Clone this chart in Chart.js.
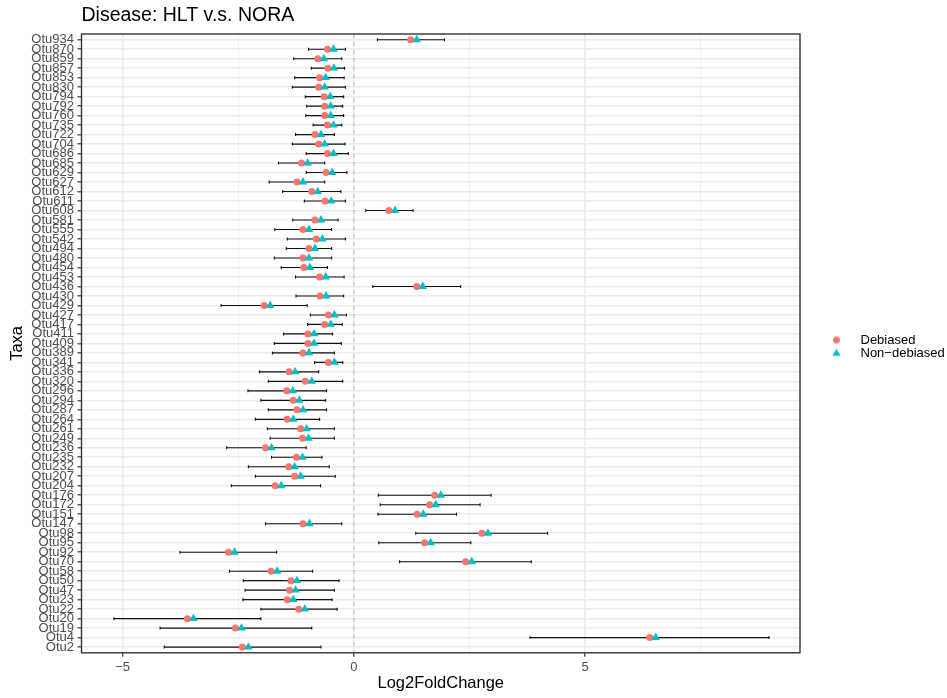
<!DOCTYPE html>
<html>
<head>
<meta charset="utf-8">
<title>Disease: HLT v.s. NORA</title>
<script src="https://cdn.jsdelivr.net/npm/chart.js@4.4.0/dist/chart.umd.min.js"></script>
<style>
    html, body { margin: 0; padding: 0; background: #ffffff; }
    #wrap { width: 947px; height: 698px; }
</style>
</head>
<body>
<div id="wrap"><canvas id="lfc-chart" width="947" height="698"></canvas></div>
<script>
const taxa = ['Otu934', 'Otu870', 'Otu859', 'Otu857', 'Otu853', 'Otu830', 'Otu794', 'Otu792', 'Otu760', 'Otu735',
    'Otu722', 'Otu704', 'Otu686', 'Otu685', 'Otu629', 'Otu627', 'Otu612', 'Otu611', 'Otu608', 'Otu581',
    'Otu555', 'Otu542', 'Otu494', 'Otu480', 'Otu454', 'Otu453', 'Otu436', 'Otu430', 'Otu429', 'Otu427',
    'Otu417', 'Otu411', 'Otu409', 'Otu389', 'Otu341', 'Otu336', 'Otu320', 'Otu296', 'Otu294', 'Otu287',
    'Otu264', 'Otu261', 'Otu249', 'Otu236', 'Otu235', 'Otu232', 'Otu207', 'Otu204', 'Otu176', 'Otu172',
    'Otu151', 'Otu147', 'Otu98', 'Otu95', 'Otu92', 'Otu70', 'Otu58', 'Otu50', 'Otu47', 'Otu23',
    'Otu22', 'Otu20', 'Otu19', 'Otu4', 'Otu2'];

const debiased = [1.23, -0.57, -0.78, -0.56, -0.74, -0.76, -0.64, -0.63, -0.63, -0.57,
    -0.84, -0.76, -0.57, -1.13, -0.60, -1.23, -0.91, -0.62, 0.76, -0.84,
    -1.10, -0.81, -0.97, -1.10, -1.08, -0.74, 1.36, -0.73, -1.94, -0.55,
    -0.63, -0.99, -0.99, -1.10, -0.55, -1.40, -1.05, -1.45, -1.31, -1.23,
    -1.44, -1.15, -1.11, -1.91, -1.24, -1.41, -1.28, -1.70, 1.75, 1.64,
    1.37, -1.10, 2.77, 1.53, -2.71, 2.42, -1.79, -1.36, -1.39, -1.44,
    -1.19, -3.60, -2.56, 6.40, -2.41];

const nonDebiased = [1.36, -0.44, -0.65, -0.43, -0.61, -0.63, -0.51, -0.50, -0.50, -0.44,
    -0.71, -0.63, -0.44, -1.00, -0.47, -1.10, -0.78, -0.49, 0.89, -0.71,
    -0.97, -0.68, -0.84, -0.97, -0.95, -0.61, 1.49, -0.60, -1.81, -0.42,
    -0.50, -0.86, -0.86, -0.97, -0.42, -1.27, -0.91, -1.32, -1.18, -1.10,
    -1.31, -1.02, -0.98, -1.78, -1.11, -1.28, -1.15, -1.57, 1.88, 1.77,
    1.50, -0.96, 2.90, 1.66, -2.58, 2.55, -1.66, -1.23, -1.26, -1.31,
    -1.06, -3.47, -2.43, 6.53, -2.28];

const lower = [0.51, -0.98, -1.30, -0.92, -1.28, -1.33, -1.05, -1.02, -1.04, -0.88,
    -1.26, -1.33, -1.03, -1.63, -1.03, -1.83, -1.54, -1.07, 0.26, -1.32,
    -1.71, -1.44, -1.46, -1.72, -1.57, -1.26, 0.41, -1.25, -2.87, -0.94,
    -1.00, -1.52, -1.72, -1.76, -0.85, -2.04, -1.85, -2.29, -2.01, -1.85,
    -2.13, -1.87, -1.81, -2.75, -1.78, -2.28, -2.13, -2.65, 0.53, 0.57,
    0.52, -1.91, 1.34, 0.54, -3.76, 0.99, -2.69, -2.39, -2.35, -2.40,
    -2.01, -5.19, -4.19, 3.81, -4.10];

const upper = [1.96, -0.18, -0.26, -0.20, -0.21, -0.18, -0.22, -0.24, -0.22, -0.26,
    -0.42, -0.19, -0.12, -0.63, -0.15, -0.63, -0.28, -0.18, 1.28, -0.34,
    -0.48, -0.18, -0.48, -0.48, -0.57, -0.21, 2.31, -0.22, -1.01, -0.16,
    -0.25, -0.46, -0.27, -0.42, -0.24, -0.76, -0.24, -0.59, -0.61, -0.59,
    -0.74, -0.42, -0.42, -1.03, -0.69, -0.53, -0.40, -0.72, 2.97, 2.73,
    2.22, -0.26, 4.19, 2.53, -1.67, 3.84, -0.89, -0.32, -0.42, -0.47,
    -0.36, -2.01, -0.91, 8.98, -0.71];

const xTicks = [-5, -2.5, 0, 2.5, 5, 7.5];

const seriesNames = ['Debiased', 'Non\u2212debiased'];
const circleColor = '#F8766D';
const triangleColor = '#00BFC4';
const gridColor = '#EBEBEB';
const tickTextColor = '#4D4D4D';
const frameColor = '#333333';
const zeroLineColor = '#BDBDBD';
const fontFamily = '"Liberation Sans", Arial, Helvetica, sans-serif';

// small marker images for the legend; marker sits off-centre so the text lands further right
function makeLegendMarker(shape, color) {
    const c = document.createElement('canvas');
    c.width = 54;
    c.height = 13;
    const g = c.getContext('2d');
    g.fillStyle = color;
    g.beginPath();
    if (shape === 'circle') {
        g.arc(36.5, 6.5, 3.5, 0, Math.PI * 2);
    } else {
        g.moveTo(36.5, 2.2);
        g.lineTo(40.6, 9.2);
        g.lineTo(32.4, 9.2);
        g.closePath();
    }
    g.fill();
    return c;
}

// error bars, dashed zero line and panel frame
const errorBarPlugin = {
    id: 'errorBars',
    beforeDatasetsDraw(chart) {
        const ctx = chart.ctx;
        const xs = chart.scales.x;
        const ys = chart.scales.y;
        const area = chart.chartArea;
        ctx.save();
        const x0 = xs.getPixelForValue(0);
        ctx.strokeStyle = zeroLineColor;
        ctx.lineWidth = 1.1;
        ctx.setLineDash([4, 4]);
        ctx.beginPath();
        ctx.moveTo(x0, area.top);
        ctx.lineTo(x0, area.bottom);
        ctx.stroke();
        ctx.setLineDash([]);

        ctx.strokeStyle = '#111111';
        ctx.lineWidth = 1.1;
        for (var i = 0; i < taxa.length; ++i) {
            var y = ys.getPixelForValue(i);
            var x1 = xs.getPixelForValue(lower[i]);
            var x2 = xs.getPixelForValue(upper[i]);
            ctx.beginPath();
            ctx.moveTo(x1, y);
            ctx.lineTo(x2, y);
            ctx.moveTo(x1, y - 1.5);
            ctx.lineTo(x1, y + 1.5);
            ctx.moveTo(x2, y - 1.5);
            ctx.lineTo(x2, y + 1.5);
            ctx.stroke();
        }
        ctx.restore();
    },
    afterDraw(chart) {
        const ctx = chart.ctx;
        const area = chart.chartArea;
        ctx.save();
        ctx.strokeStyle = frameColor;
        ctx.lineWidth = 1.4;
        ctx.strokeRect(area.left, area.top, area.right - area.left, area.bottom - area.top);
        ctx.restore();
    }
};

function buildPoints(values) {
    return values.map(function(v, i) {
        return { x: v, y: i };
    });
}

new Chart('lfc-chart', {
    type: 'scatter',
    data: {
        datasets: [{
            label: seriesNames[0],
            data: buildPoints(debiased),
            pointStyle: 'circle',
            pointRadius: 3.5,
            backgroundColor: circleColor,
            borderWidth: 0,
            order: 1,
        }, {
            label: seriesNames[1],
            data: buildPoints(nonDebiased),
            pointStyle: 'triangle',
            pointRadius: 4.9,
            backgroundColor: triangleColor,
            borderWidth: 0,
            order: 0,
        }]
    },
    options: {
        responsive: false,
        animation: false,
        events: [],
        layout: { padding: { top: 0, left: 0, right: 0, bottom: 5 } },
        plugins: {
            tooltip: { enabled: false },
            title: {
                display: true,
                text: 'Disease: HLT v.s. NORA',
                align: 'start',
                fullSize: false,
                color: '#000000',
                font: { family: fontFamily, size: 19.5, weight: 'normal' },
                padding: { top: 3.5, bottom: 7.1 },
            },
            legend: {
                position: 'right',
                align: 'center',
                maxWidth: 147,
                labels: {
                    usePointStyle: true,
                    pointStyleWidth: 54,
                    boxHeight: 13,
                    padding: 0,
                    color: '#000000',
                    font: { family: fontFamily, size: 13 },
                    generateLabels: function() {
                        return [
                            { text: seriesNames[0], pointStyle: makeLegendMarker('circle', circleColor), lineWidth: 0, fontColor: '#000000', datasetIndex: 0 },
                            { text: seriesNames[1], pointStyle: makeLegendMarker('triangle', triangleColor), lineWidth: 0, fontColor: '#000000', datasetIndex: 1 },
                        ];
                    },
                },
            },
        },
        scales: {
            x: {
                type: 'linear',
                min: -5.89,
                max: 9.65,
                afterFit: function(axis) { axis.height = 40.2; },
                afterBuildTicks: function(axis) {
                    axis.ticks = xTicks.map(function(v) { return { value: v }; });
                },
                border: { display: false },
                grid: {
                    color: gridColor,
                    lineWidth: function(ctx) { return ctx.tick && ctx.tick.value % 5 === 0 ? 1.5 : 0.7; },
                    tickLength: 4,
                    tickWidth: 1.2,
                    tickColor: function(ctx) { return ctx.tick && ctx.tick.value % 5 === 0 ? frameColor : 'rgba(0,0,0,0)'; },
                },
                ticks: {
                    autoSkip: false,
                    maxRotation: 0,
                    padding: 3,
                    color: tickTextColor,
                    font: { family: fontFamily, size: 13 },
                    callback: function(value) {
                        if (value % 5 !== 0) return '';
                        return value < 0 ? '\u2212' + Math.abs(value) : String(value);
                    },
                },
                title: {
                    display: true,
                    text: 'Log2FoldChange',
                    color: '#000000',
                    font: { family: fontFamily, size: 16.5 },
                    padding: { top: 0, bottom: 0 },
                },
            },
            y: {
                type: 'linear',
                reverse: true,
                min: -0.6,
                max: taxa.length - 0.4,
                afterFit: function(axis) { axis.width = 81.5; },
                afterBuildTicks: function(axis) {
                    axis.ticks = taxa.map(function(t, i) { return { value: i }; });
                },
                border: { display: false },
                grid: {
                    color: gridColor,
                    lineWidth: 1.6,
                    tickLength: 4,
                    tickWidth: 1.2,
                    tickColor: frameColor,
                },
                ticks: {
                    autoSkip: false,
                    padding: 3.5,
                    color: tickTextColor,
                    font: { family: fontFamily, size: 13 },
                    callback: function(value) { return taxa[value]; },
                },
                title: {
                    display: true,
                    text: 'Taxa',
                    color: '#000000',
                    font: { family: fontFamily, size: 16.5 },
                    padding: { top: 8, bottom: 0 },
                },
            },
        },
    },
    plugins: [errorBarPlugin],
});
</script>
</body>
</html>
